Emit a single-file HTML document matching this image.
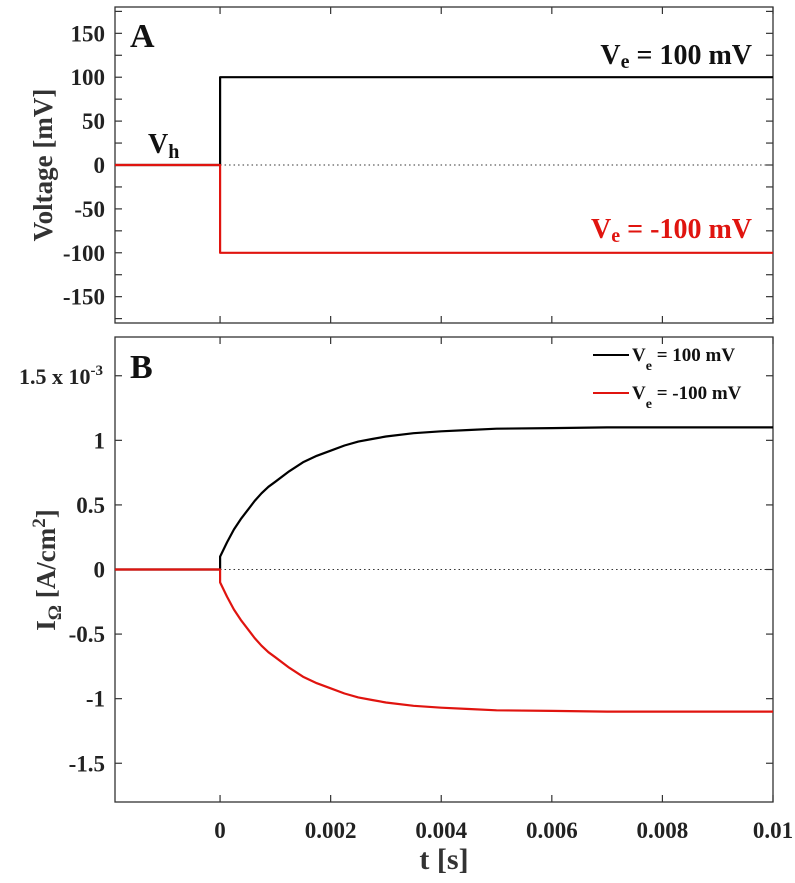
<!DOCTYPE html>
<html><head><meta charset="utf-8"><style>
body{margin:0;background:#fff}
svg{display:block;font-family:"Liberation Serif",serif;font-weight:bold}
</style></head><body>
<svg id="chart" width="795" height="883" viewBox="0 0 795 883">
<g id="pa"></g>
<g id="pb"></g>
</svg>
<script>
// Panel A data
const tA = [-0.0019, 0, 0, 0.01];
const vHigh = [0, 0, 100, 100];
const vLow = [0, 0, -100, -100];
const yTicksA = [-150, -100, -50, 0, 50, 100, 150];
// Panel B data (time in s, current in 1e-3 A/cm2)
const tB = [-0.0019, 0, 0, 0.000125, 0.00025, 0.000375, 0.0005, 0.000625, 0.00075, 0.000875, 0.001, 0.00125, 0.0015, 0.00175, 0.002, 0.00225, 0.0025, 0.00275, 0.003, 0.0035, 0.004, 0.0045, 0.005, 0.006, 0.007, 0.008, 0.01];
const iPos = [0, 0, 0.1, 0.21, 0.31, 0.39, 0.46, 0.53, 0.59, 0.64, 0.68, 0.76, 0.83, 0.88, 0.92, 0.96, 0.99, 1.01, 1.03, 1.055, 1.07, 1.08, 1.09, 1.095, 1.1, 1.1, 1.1];
const iNeg = [0, 0, -0.1, -0.21, -0.31, -0.39, -0.46, -0.53, -0.59, -0.64, -0.68, -0.76, -0.83, -0.88, -0.92, -0.96, -0.99, -1.01, -1.03, -1.055, -1.07, -1.08, -1.09, -1.095, -1.1, -1.1, -1.1];
const yTicksB = [-1.5, -1, -0.5, 0, 0.5, 1];
const xTicks = [0, 0.002, 0.004, 0.006, 0.008, 0.01];
const xTickLabels = ["0", "0.002", "0.004", "0.006", "0.008", "0.01"];

const NS = "http://www.w3.org/2000/svg";
const L = 115, R = 773;
const xs = t => L + (t + 0.0019) / 0.0119 * (R - L);
const AT = 7, AB = 323, yA = v => AT + (180 - v) / 360 * (AB - AT);
const BT = 337, BB = 802, yB = v => BT + (1.8 - v) / 3.6 * (BB - BT);

function mk(parent, tag, attrs, text) {
  const e = document.createElementNS(NS, tag);
  for (const k in attrs) e.setAttribute(k, attrs[k]);
  if (text !== undefined) e.textContent = text;
  parent.appendChild(e);
  return e;
}
const pa = document.getElementById('pa'), pb = document.getElementById('pb');

function frame(g, top, bot) {
  const r = mk(g, 'rect', {x: L, y: top, width: R - L, height: bot - top, fill: 'none', stroke: '#333', 'stroke-width': 1.3});
  
  
  xTicks.forEach(t => {
    mk(g, 'line', {x1: xs(t), x2: xs(t), y1: bot, y2: bot - 7, stroke: '#333', 'stroke-width': 1.2});
    mk(g, 'line', {x1: xs(t), x2: xs(t), y1: top, y2: top + 7, stroke: '#333', 'stroke-width': 1.2});
  });
}
function path(g, xsArr, ysArr, yf, color, name, w) {
  let d = '';
  xsArr.forEach((t, i) => { d += (i ? 'L' : 'M') + xs(t).toFixed(1) + ',' + yf(ysArr[i]).toFixed(1); });
  const p = mk(g, 'path', {d: d, fill: 'none', stroke: color, 'stroke-width': w || 2.2, 'stroke-linejoin': 'round'});
  
  
}

// Panel A
frame(pa, AT, AB);
for (let v = -175; v <= 175; v += 25) {
  mk(pa, 'line', {x1: L, x2: L + 7, y1: yA(v), y2: yA(v), stroke: '#333', 'stroke-width': 1.2});
  mk(pa, 'line', {x1: R, x2: R - 7, y1: yA(v), y2: yA(v), stroke: '#333', 'stroke-width': 1.2});
}
yTicksA.forEach(v => {
  const t = mk(pa, 'text', {x: L - 10, y: yA(v) + 8, 'text-anchor': 'end', 'font-size': 23, fill: '#222'}, String(v));
  
  
});
mk(pa, 'line', {x1: xs(0), x2: R, y1: yA(0), y2: yA(0), stroke: '#333', 'stroke-width': 1, 'stroke-dasharray': '1.5 3'});
path(pa, tA, vHigh, yA, '#000', 've-100-trace');
path(pa, tA, vLow, yA, '#e0140f', 've-minus100-trace');
let t = mk(pa, 'text', {x: 130, y: 47, 'font-size': 34, fill: '#111'}, 'A');
 
t = mk(pa, 'text', {x: 0, y: 0, transform: 'translate(52,165) rotate(-90)', 'text-anchor': 'middle', 'font-size': 27, fill: '#333'}, 'Voltage [mV]');
 
t = mk(pa, 'text', {x: 148, y: 153, 'font-size': 28, fill: '#111'}); t.innerHTML = 'V<tspan font-size="20" dy="5">h</tspan>';
 
t = mk(pa, 'text', {x: 752, y: 64, 'text-anchor': 'end', 'font-size': 28, fill: '#111'}); t.innerHTML = 'V<tspan font-size="20" dy="4">e</tspan><tspan dy="-4"> = 100 mV</tspan>';
 
t = mk(pa, 'text', {x: 752, y: 238, 'text-anchor': 'end', 'font-size': 28, fill: '#e0140f'}); t.innerHTML = 'V<tspan font-size="20" dy="4">e</tspan><tspan dy="-4"> = -100 mV</tspan>';
 

// Panel B
frame(pb, BT, BB);
[-1.5, -1, -0.5, 0, 0.5, 1, 1.5].forEach(v => {
  mk(pb, 'line', {x1: L, x2: L + 7, y1: yB(v), y2: yB(v), stroke: '#333', 'stroke-width': 1.2});
  mk(pb, 'line', {x1: R, x2: R - 7, y1: yB(v), y2: yB(v), stroke: '#333', 'stroke-width': 1.2});
});
yTicksB.forEach(v => {
  const tt = mk(pb, 'text', {x: 105, y: yB(v) + 8, 'text-anchor': 'end', 'font-size': 23, fill: '#222'}, String(v));
  
  
});
t = mk(pb, 'text', {x: 103, y: yB(1.5) + 8, 'text-anchor': 'end', 'font-size': 22, fill: '#222'}); t.innerHTML = '1.5 x 10<tspan font-size="15" dy="-9">-3</tspan>';
 
xTicks.forEach((v, i) => {
  const tt = mk(pb, 'text', {x: xs(v), y: 838, 'text-anchor': 'middle', 'font-size': 23, fill: '#222'}, xTickLabels[i]);
  
  
});
mk(pb, 'line', {x1: xs(0), x2: R, y1: yB(0), y2: yB(0), stroke: '#333', 'stroke-width': 1, 'stroke-dasharray': '1.5 3'});
path(pb, tB, iPos, yB, '#000', 'current-pos-trace');
path(pb, tB, iNeg, yB, '#e0140f', 'current-neg-trace');
t = mk(pb, 'text', {x: 130, y: 378, 'font-size': 34, fill: '#111'}, 'B');
 
t = mk(pb, 'text', {x: 0, y: 0, transform: 'translate(55,570) rotate(-90)', 'text-anchor': 'middle', 'font-size': 27, fill: '#333'});
t.innerHTML = 'I<tspan font-size="19" dy="6">Ω</tspan><tspan dy="-6"> [A/cm</tspan><tspan font-size="19" dy="-10">2</tspan><tspan dy="10">]</tspan>';
 
t = mk(pb, 'text', {x: 444, y: 869, 'text-anchor': 'middle', 'font-size': 30, fill: '#333'}, 't [s]');
 
// legend
const leg = mk(pb, 'g', {});
 
[['#000', 'V', ' = 100 mV', 355], ['#e0140f', 'V', ' = -100 mV', 393]].forEach(e => {
  mk(leg, 'line', {x1: 593, x2: 629, y1: e[3], y2: e[3], stroke: e[0], 'stroke-width': 2});
  const tx = mk(leg, 'text', {x: 632, y: e[3] + 6, 'font-size': 19, fill: '#111'});
  tx.innerHTML = 'V<tspan font-size="14" dy="9">e</tspan><tspan dy="-9">' + e[2] + '</tspan>';
  
  
});
</script>
</body></html>
